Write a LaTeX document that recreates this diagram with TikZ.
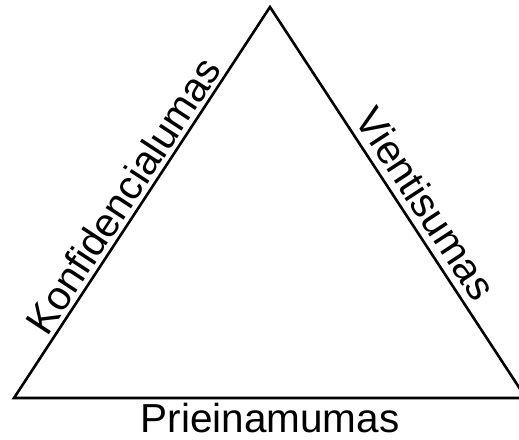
\documentclass[tikz,border=0pt]{standalone}
\usepackage{fontspec}
\setmainfont{Liberation Sans}
\begin{document}
\begin{tikzpicture}[x=1pt,y=1pt,
  edge/.style={line width=2.6pt, line join=miter},
  lbl/.style={font=\fontsize{40.5}{48}\selectfont, inner sep=0pt, outer sep=0pt}]
\clip (0,0) rectangle (519,-439);
\useasboundingbox (0,0) rectangle (519,-439);
\coordinate (top) at (270,-7);
\coordinate (bl) at (14,-398);
\coordinate (br) at (526,-398);
\draw[edge] (top) -- (br) -- (bl) -- cycle;
\path (bl) -- node[lbl, sloped, above=5pt, pos=0.49] (k) {Konfidencialumas} (top);
\path (top) -- node[lbl, sloped, above=8pt, pos=0.535] (v) {Vientisumas} (br);
\path (bl) -- node[lbl, below=5pt, pos=0.5] (p) {Prieinamumas} (br);
\end{tikzpicture}
\end{document}
